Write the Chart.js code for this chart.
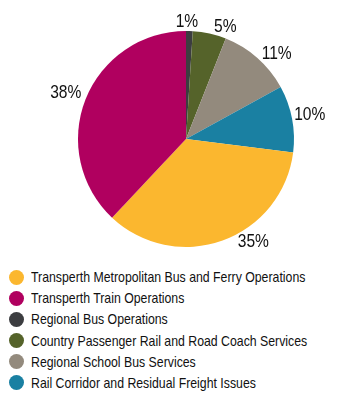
<!DOCTYPE html>
<html>
<head>
<meta charset="utf-8">
<script src="https://cdn.jsdelivr.net/npm/chart.js@4"></script>
<style>
    body { margin: 0; background: #fff; width: 347px; height: 403px; overflow: hidden; }
    #wrap { position: absolute; left: 0; top: 0; width: 347px; height: 262px; }
    #legend { position: absolute; left: 0; top: 266px; margin: 0; padding: 0; list-style: none;
        font-family: 'Liberation Sans', Arial, sans-serif; font-size: 15px; color: #111; }
    #legend li { position: relative; height: 21.2px; width: 347px; }
    #legend .dot { position: absolute; left: 9px; top: 3.5px; width: 15px; height: 15px; border-radius: 50%; }
    #legend .txt { position: absolute; left: 31px; top: 0; line-height: 21.2px; white-space: nowrap;
        transform: scaleX(0.82); transform-origin: left center; }
</style>
</head>
<body>
<div id="wrap"><canvas id="pieChart"></canvas></div>
<ul id="legend"></ul>
<script>
// slices in drawing order, clockwise from 12 o'clock
const categories = [
    'Regional Bus Operations',
    'Country Passenger Rail and Road Coach Services',
    'Regional School Bus Services',
    'Rail Corridor and Residual Freight Issues',
    'Transperth Metropolitan Bus and Ferry Operations',
    'Transperth Train Operations'
];
const shares = [1, 5, 11, 10, 35, 38];
const colours = ['#3c3d40', '#55632a', '#938a7d', '#1a80a2', '#fbb72f', '#b0005f'];
// order the legend lists them in
const legendOrder = [4, 5, 0, 1, 2, 3];

// small hand nudges so the % labels sit where the original put them
const labelNudge = [[-3, 8], [12, 10], [8, 9], [1, -1], [25, -15], [-4, 0]];

const pctLabels = {
    id: 'pctLabels',
    afterDatasetsDraw(chart) {
        const ctx = chart.ctx;
        const meta = chart.getDatasetMeta(0);
        meta.data.forEach((arc, i) => {
            const mid = (arc.startAngle + arc.endAngle) / 2;
            const r = arc.outerRadius + 17;
            const x = arc.x + Math.cos(mid) * r + labelNudge[i][0];
            const y = arc.y + Math.sin(mid) * r + labelNudge[i][1];
            ctx.save();
            ctx.translate(x, y);
            ctx.scale(0.82, 1);
            ctx.font = '19px "Liberation Sans", Arial, sans-serif';
            ctx.fillStyle = '#111';
            ctx.textAlign = 'center';
            ctx.textBaseline = 'middle';
            ctx.fillText(shares[i] + '%', 0, 0);
            ctx.restore();
        });
    }
};

new Chart(document.getElementById('pieChart').getContext('2d'), {
    type: 'pie',
    data: {
        labels: categories,
        datasets: [{
            data: shares,
            backgroundColor: colours,
            borderWidth: 0
        }]
    },
    options: {
        responsive: true,
        maintainAspectRatio: false,
        animation: false,
        layout: { padding: { left: 25, right: 0, top: 31, bottom: 15 } },
        plugins: {
            legend: { display: false },
            tooltip: { enabled: false }
        }
    },
    plugins: [pctLabels]
});

const legend = document.getElementById('legend');
legendOrder.forEach(i => {
    const li = document.createElement('li');
    li.innerHTML = `<span class="dot" style="background:${colours[i]}"></span><span class="txt">${categories[i]}</span>`;
    legend.appendChild(li);
});
</script>
</body>
</html>
